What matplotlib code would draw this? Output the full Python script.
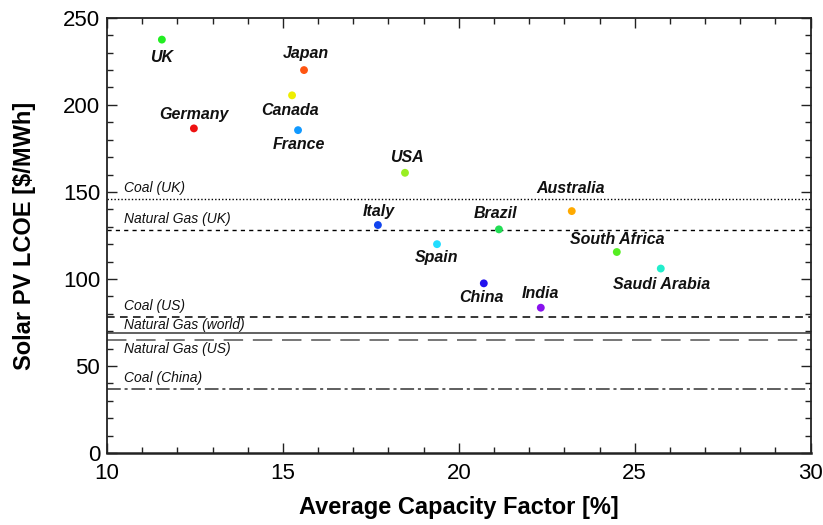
import matplotlib
matplotlib.use("Agg")
import matplotlib.pyplot as plt
from matplotlib.ticker import MultipleLocator

plt.rcParams["font.family"] = ["Liberation Sans", "DejaVu Sans"]

# Country data: average capacity factor (%) and solar PV LCOE ($/MWh)
countries = ["UK", "Japan", "Canada", "Germany", "France", "USA", "Australia",
             "Italy", "Brazil", "Spain", "South Africa", "Saudi Arabia", "China", "India"]
capacity_factor = [11.56, 15.60, 15.26, 12.47, 15.43, 18.47, 23.21,
                   17.70, 21.14, 19.38, 24.49, 25.74, 20.71, 22.33]
lcoe = [237.5, 220.0, 205.5, 186.5, 185.5, 161.0, 139.0,
        131.0, 128.5, 120.0, 115.5, 106.0, 97.5, 83.5]
point_colors = ["#22ee22", "#ff5511", "#eeee00", "#ee1111", "#1199ff", "#99ee22", "#ffaa00",
                "#1144ee", "#22dd55", "#22ddff", "#55ee22", "#22eecc", "#2211ee", "#8811ee"]

# Conventional generation reference costs ($/MWh)
ref_names = ["Coal (UK)", "Natural Gas (UK)", "Coal (US)", "Natural Gas (world)",
             "Natural Gas (US)", "Coal (China)"]
ref_values = [146, 128, 78, 69, 65, 37]

# Label offsets in pixels (dx, dy) relative to each point
label_offsets = {
    "UK": (0, -18), "Japan": (2, 17), "Canada": (-2, -15), "Germany": (0, 14),
    "France": (1, -14), "USA": (2, 15), "Australia": (-1, 23), "Italy": (1, 14),
    "Brazil": (-3, 16), "Spain": (0, -13), "South Africa": (0, 13),
    "Saudi Arabia": (1, -16), "China": (-2, -14), "India": (0, 14),
}
ref_styles = [
    dict(color="black", lw=1.0, linestyle=(0, (1, 1.5))),
    dict(color="black", lw=1.0, linestyle=(0, (3, 3))),
    dict(color="black", lw=1.1, linestyle=(0, (5, 3.5))),
    dict(color="#555555", lw=1.3, linestyle="-"),
    dict(color="#777777", lw=1.4, linestyle=(0, (10, 5))),
    dict(color="#333333", lw=1.1, linestyle=(0, (9, 2.5, 2, 2.5))),
]
ref_label_dy = [11, 11, 11, 8, -9, 11]

fig = plt.figure(figsize=(8.23, 5.25), dpi=100)
ax = fig.add_axes([0.130, 0.137, 0.855, 0.829])

for val, style in zip(ref_values, ref_styles):
    ax.axhline(val, zorder=1, **style)
for name, val, dy in zip(ref_names, ref_values, ref_label_dy):
    ax.annotate(name, xy=(10.48, val), xytext=(0, dy), textcoords="offset pixels",
                ha="left", va="center", fontsize=10, fontstyle="italic",
                color="#111111")

ax.scatter(capacity_factor, lcoe, s=32, c=point_colors, zorder=3, linewidths=0)
for name, x, y in zip(countries, capacity_factor, lcoe):
    dx, dy = label_offsets[name]
    ax.annotate(name, xy=(x, y), xytext=(dx, dy), textcoords="offset pixels",
                ha="center", va="center", fontsize=11.5, fontweight="bold",
                fontstyle="italic", color="#111111")

ax.set_xlim(10, 30)
ax.set_ylim(0, 250)
ax.xaxis.set_major_locator(MultipleLocator(5))
ax.xaxis.set_minor_locator(MultipleLocator(1))
ax.yaxis.set_major_locator(MultipleLocator(50))
ax.yaxis.set_minor_locator(MultipleLocator(10))
ax.tick_params(which="both", direction="in", top=True, right=True, width=1.0,
               color="#222222", labelsize=16)
ax.tick_params(which="major", length=7)
ax.tick_params(which="minor", length=4)
ax.tick_params(axis="x", pad=7)
ax.tick_params(axis="y", pad=5)
for sp in ax.spines.values():
    sp.set_linewidth(1.3)
    sp.set_color("#222222")
ax.spines["bottom"].set_linewidth(1.8)

ax.set_xlabel("Average Capacity Factor [%]", fontsize=17, fontweight="bold", labelpad=9)
ax.set_ylabel("Solar PV LCOE [$/MWh]", fontsize=17, fontweight="bold", labelpad=19)

fig.savefig("out.png", dpi=100)
